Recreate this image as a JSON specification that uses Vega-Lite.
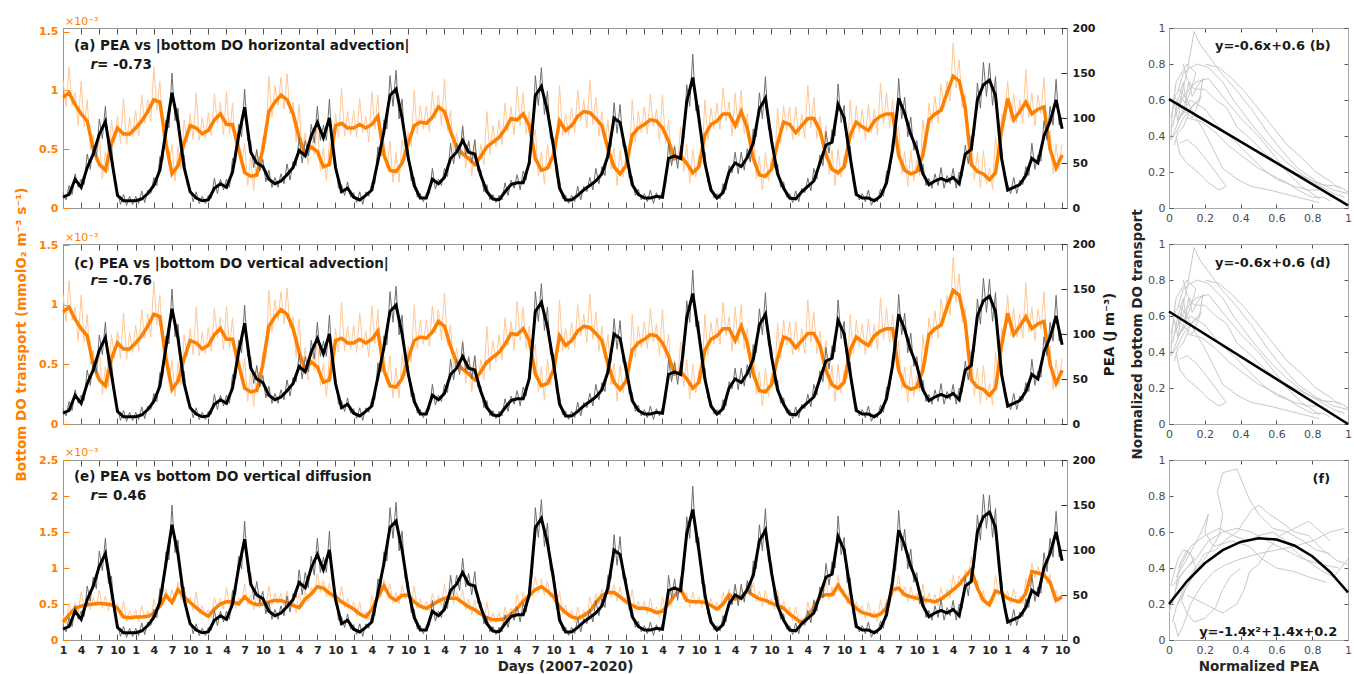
{
"$schema": "https://vega.github.io/schema/vega-lite/v6.json",
"background": "white",
"padding": {"left": 14, "top": 16, "right": 5, "bottom": 0},
"config": {"font": "DejaVu Sans", "view": {"stroke": null}, "axis": {"grid": false, "labelFlush": false, "labelOverlap": false, "domainWidth": 1, "tickWidth": 1, "labelFont": "DejaVu Sans", "titleFont": "DejaVu Sans"}, "text": {"font": "DejaVu Sans"}, "title": {"font": "DejaVu Sans"}},
"datasets": {
"sm": [
{"t":0,"p":12,"h":0.94,"v":0.25},{"t":1,"p":15,"h":0.98,"v":0.35},{"t":2,"p":32,"h":0.88,"v":0.44},{"t":3,"p":23,"h":0.8,"v":0.47},{"t":4,"p":45,"h":0.74,"v":0.49},{"t":5,"p":60,"h":0.5,"v":0.5},{"t":6,"p":82,"h":0.37,"v":0.51},{"t":7,"p":96,"h":0.32,"v":0.5},{"t":8,"p":55,"h":0.55,"v":0.49},{"t":9,"p":14,"h":0.68,"v":0.44},{"t":10,"p":8,"h":0.63,"v":0.32},{"t":11,"p":8,"h":0.63,"v":0.31},
{"t":12,"p":8,"h":0.68,"v":0.32},{"t":13,"p":10,"h":0.74,"v":0.32},{"t":14,"p":16,"h":0.82,"v":0.33},{"t":15,"p":25,"h":0.92,"v":0.37},{"t":16,"p":42,"h":0.9,"v":0.47},{"t":17,"p":85,"h":0.55,"v":0.62},{"t":18,"p":128,"h":0.29,"v":0.52},{"t":19,"p":95,"h":0.36,"v":0.7},{"t":20,"p":45,"h":0.55,"v":0.6},{"t":21,"p":18,"h":0.7,"v":0.52},{"t":22,"p":11,"h":0.68,"v":0.45},{"t":23,"p":8,"h":0.63,"v":0.38},
{"t":24,"p":9,"h":0.66,"v":0.33},{"t":25,"p":22,"h":0.75,"v":0.43},{"t":26,"p":27,"h":0.8,"v":0.5},{"t":27,"p":23,"h":0.71,"v":0.53},{"t":28,"p":40,"h":0.71,"v":0.53},{"t":29,"p":80,"h":0.5,"v":0.5},{"t":30,"p":112,"h":0.3,"v":0.6},{"t":31,"p":62,"h":0.27,"v":0.52},{"t":32,"p":50,"h":0.28,"v":0.49},{"t":33,"p":46,"h":0.5,"v":0.5},{"t":34,"p":32,"h":0.82,"v":0.53},{"t":35,"p":27,"h":0.9,"v":0.55},
{"t":36,"p":30,"h":0.96,"v":0.55},{"t":37,"p":37,"h":0.92,"v":0.52},{"t":38,"p":45,"h":0.8,"v":0.48},{"t":39,"p":64,"h":0.6,"v":0.45},{"t":40,"p":58,"h":0.46,"v":0.57},{"t":41,"p":80,"h":0.52,"v":0.64},{"t":42,"p":95,"h":0.48,"v":0.74},{"t":43,"p":78,"h":0.35,"v":0.72},{"t":44,"p":100,"h":0.37,"v":0.65},{"t":45,"p":45,"h":0.7,"v":0.6},{"t":46,"p":18,"h":0.72,"v":0.53},{"t":47,"p":22,"h":0.68,"v":0.48},
{"t":48,"p":12,"h":0.68,"v":0.43},{"t":49,"p":9,"h":0.71,"v":0.36},{"t":50,"p":14,"h":0.68,"v":0.32},{"t":51,"p":20,"h":0.71,"v":0.42},{"t":52,"p":52,"h":0.78,"v":0.6},{"t":53,"p":85,"h":0.45,"v":0.75},{"t":54,"p":125,"h":0.32,"v":0.6},{"t":55,"p":132,"h":0.31,"v":0.55},{"t":56,"p":100,"h":0.38,"v":0.62},{"t":57,"p":56,"h":0.55,"v":0.62},{"t":58,"p":25,"h":0.7,"v":0.53},{"t":59,"p":11,"h":0.73,"v":0.47},
{"t":60,"p":11,"h":0.72,"v":0.44},{"t":61,"p":32,"h":0.77,"v":0.49},{"t":62,"p":27,"h":0.86,"v":0.54},{"t":63,"p":34,"h":0.82,"v":0.58},{"t":64,"p":55,"h":0.65,"v":0.58},{"t":65,"p":62,"h":0.52,"v":0.58},{"t":66,"p":75,"h":0.46,"v":0.52},{"t":67,"p":62,"h":0.42,"v":0.46},{"t":68,"p":60,"h":0.37,"v":0.42},{"t":69,"p":36,"h":0.44,"v":0.36},{"t":70,"p":18,"h":0.52,"v":0.31},{"t":71,"p":10,"h":0.56,"v":0.28},
{"t":72,"p":9,"h":0.6,"v":0.28},{"t":73,"p":18,"h":0.67,"v":0.3},{"t":74,"p":26,"h":0.76,"v":0.36},{"t":75,"p":28,"h":0.75,"v":0.44},{"t":76,"p":28,"h":0.8,"v":0.54},{"t":77,"p":50,"h":0.7,"v":0.62},{"t":78,"p":125,"h":0.42,"v":0.7},{"t":79,"p":135,"h":0.32,"v":0.74},{"t":80,"p":108,"h":0.34,"v":0.68},{"t":81,"p":68,"h":0.45,"v":0.6},{"t":82,"p":22,"h":0.74,"v":0.46},{"t":83,"p":9,"h":0.66,"v":0.38},
{"t":84,"p":9,"h":0.7,"v":0.32},{"t":85,"p":14,"h":0.78,"v":0.3},{"t":86,"p":20,"h":0.82,"v":0.34},{"t":87,"p":25,"h":0.81,"v":0.4},{"t":88,"p":30,"h":0.76,"v":0.52},{"t":89,"p":38,"h":0.7,"v":0.62},{"t":90,"p":58,"h":0.5,"v":0.66},{"t":91,"p":100,"h":0.35,"v":0.66},{"t":92,"p":95,"h":0.29,"v":0.6},{"t":93,"p":60,"h":0.36,"v":0.53},{"t":94,"p":26,"h":0.62,"v":0.48},{"t":95,"p":15,"h":0.68,"v":0.44},
{"t":96,"p":11,"h":0.71,"v":0.44},{"t":97,"p":11,"h":0.75,"v":0.42},{"t":98,"p":13,"h":0.74,"v":0.38},{"t":99,"p":12,"h":0.68,"v":0.4},{"t":100,"p":55,"h":0.57,"v":0.5},{"t":101,"p":58,"h":0.42,"v":0.62},{"t":102,"p":55,"h":0.44,"v":0.7},{"t":103,"p":118,"h":0.38,"v":0.55},{"t":104,"p":145,"h":0.3,"v":0.53},{"t":105,"p":100,"h":0.35,"v":0.53},{"t":106,"p":50,"h":0.62,"v":0.52},{"t":107,"p":20,"h":0.71,"v":0.48},
{"t":108,"p":11,"h":0.74,"v":0.43},{"t":109,"p":17,"h":0.8,"v":0.5},{"t":110,"p":40,"h":0.8,"v":0.63},{"t":111,"p":50,"h":0.7,"v":0.57},{"t":112,"p":46,"h":0.82,"v":0.6},{"t":113,"p":56,"h":0.68,"v":0.68},{"t":114,"p":72,"h":0.42,"v":0.62},{"t":115,"p":110,"h":0.28,"v":0.57},{"t":116,"p":122,"h":0.27,"v":0.55},{"t":117,"p":75,"h":0.33,"v":0.51},{"t":118,"p":38,"h":0.55,"v":0.48},{"t":119,"p":22,"h":0.73,"v":0.44},
{"t":120,"p":11,"h":0.71,"v":0.36},{"t":121,"p":10,"h":0.64,"v":0.3},{"t":122,"p":18,"h":0.7,"v":0.23},{"t":123,"p":24,"h":0.76,"v":0.33},{"t":124,"p":30,"h":0.76,"v":0.45},{"t":125,"p":50,"h":0.66,"v":0.6},{"t":126,"p":70,"h":0.45,"v":0.63},{"t":127,"p":73,"h":0.33,"v":0.63},{"t":128,"p":115,"h":0.3,"v":0.76},{"t":129,"p":100,"h":0.35,"v":0.63},{"t":130,"p":56,"h":0.62,"v":0.52},{"t":131,"p":15,"h":0.73,"v":0.44},
{"t":132,"p":11,"h":0.69,"v":0.38},{"t":133,"p":11,"h":0.66,"v":0.36},{"t":134,"p":8,"h":0.74,"v":0.33},{"t":135,"p":13,"h":0.78,"v":0.36},{"t":136,"p":28,"h":0.8,"v":0.45},{"t":137,"p":65,"h":0.8,"v":0.7},{"t":138,"p":122,"h":0.45,"v":0.72},{"t":139,"p":105,"h":0.32,"v":0.63},{"t":140,"p":82,"h":0.29,"v":0.6},{"t":141,"p":65,"h":0.31,"v":0.58},{"t":142,"p":38,"h":0.45,"v":0.56},{"t":143,"p":26,"h":0.75,"v":0.55},
{"t":144,"p":30,"h":0.8,"v":0.53},{"t":145,"p":33,"h":0.83,"v":0.57},{"t":146,"p":30,"h":0.98,"v":0.63},{"t":147,"p":34,"h":1.12,"v":0.7},{"t":148,"p":27,"h":1.08,"v":0.77},{"t":149,"p":60,"h":0.85,"v":0.88},{"t":150,"p":65,"h":0.37,"v":0.98},{"t":151,"p":120,"h":0.31,"v":0.72},{"t":152,"p":137,"h":0.29,"v":0.55},{"t":153,"p":142,"h":0.24,"v":0.49},{"t":154,"p":125,"h":0.3,"v":0.68},{"t":155,"p":55,"h":0.66,"v":0.65},
{"t":156,"p":20,"h":0.93,"v":0.58},{"t":157,"p":23,"h":0.75,"v":0.55},{"t":158,"p":26,"h":0.82,"v":0.53},{"t":159,"p":36,"h":0.9,"v":0.65},{"t":160,"p":55,"h":0.8,"v":0.95},{"t":161,"p":50,"h":0.84,"v":0.93},{"t":162,"p":80,"h":0.86,"v":0.9},{"t":163,"p":96,"h":0.5,"v":0.8},{"t":164,"p":120,"h":0.34,"v":0.55},{"t":165,"p":88,"h":0.45,"v":0.6}
],
"raw": [
{"t":0,"P":17,"H":1.09,"V":0.35},{"t":0.5,"P":9,"H":0.86,"V":0.23},{"t":1,"P":25,"H":1.2,"V":0.51},{"t":1.5,"P":15,"H":0.87,"V":0.36},{"t":2,"P":38,"H":0.98,"V":0.52},{"t":2.5,"P":23,"H":0.7,"V":0.37},{"t":3,"P":32,"H":1.08,"V":0.67},{"t":3.5,"P":26,"H":0.69,"V":0.43},{"t":4,"P":60,"H":0.92,"V":0.61},{"t":4.5,"P":43,"H":0.5,"V":0.42},{"t":5,"P":70,"H":0.62,"V":0.59},{"t":5.5,"P":57,"H":0.39,"V":0.47},
{"t":6,"P":99,"H":0.62,"V":0.69},{"t":6.5,"P":77,"H":0.25,"V":0.44},{"t":7,"P":113,"H":0.48,"V":0.61},{"t":7.5,"P":63,"H":0.31,"V":0.41},{"t":8,"P":71,"H":0.75,"V":0.63},{"t":8.5,"P":29,"H":0.55,"V":0.42},{"t":9,"P":18,"H":0.78,"V":0.51},{"t":9.5,"P":4,"H":0.55,"V":0.3},{"t":10,"P":15,"H":0.93,"V":0.54},{"t":10.5,"P":3,"H":0.54,"V":0.26},{"t":11,"P":13,"H":0.77,"V":0.41},{"t":11.5,"P":4,"H":0.6,"V":0.28},
{"t":12,"P":13,"H":0.83,"V":0.42},{"t":12.5,"P":5,"H":0.61,"V":0.25},{"t":13,"P":19,"H":0.96,"V":0.48},{"t":13.5,"P":6,"H":0.72,"V":0.29},{"t":14,"P":20,"H":0.92,"V":0.41},{"t":14.5,"P":16,"H":0.73,"V":0.26},{"t":15,"P":34,"H":1.2,"V":0.57},{"t":15.5,"P":25,"H":0.83,"V":0.37},{"t":16,"P":57,"H":1.08,"V":0.59},{"t":16.5,"P":53,"H":0.61,"V":0.47},{"t":17,"P":98,"H":0.67,"V":0.71},{"t":17.5,"P":89,"H":0.37,"V":0.53},
{"t":18,"P":150,"H":0.54,"V":0.7},{"t":18.5,"P":97,"H":0.23,"V":0.54},{"t":19,"P":111,"H":0.52,"V":0.81},{"t":19.5,"P":58,"H":0.33,"V":0.56},{"t":20,"P":59,"H":0.75,"V":0.74},{"t":20.5,"P":26,"H":0.56,"V":0.51},{"t":21,"P":22,"H":0.8,"V":0.59},{"t":21.5,"P":7,"H":0.58,"V":0.41},{"t":22,"P":18,"H":0.98,"V":0.67},{"t":22.5,"P":5,"H":0.57,"V":0.36},{"t":23,"P":13,"H":0.77,"V":0.48},{"t":23.5,"P":5,"H":0.59,"V":0.32},
{"t":24,"P":14,"H":0.81,"V":0.43},{"t":24.5,"P":11,"H":0.61,"V":0.31},{"t":25,"P":33,"H":0.97,"V":0.59},{"t":25.5,"P":16,"H":0.72,"V":0.43},{"t":26,"P":32,"H":0.9,"V":0.58},{"t":26.5,"P":20,"H":0.62,"V":0.43},{"t":27,"P":32,"H":0.99,"V":0.73},{"t":27.5,"P":23,"H":0.63,"V":0.48},{"t":28,"P":55,"H":0.89,"V":0.65},{"t":28.5,"P":50,"H":0.49,"V":0.44},{"t":29,"P":93,"H":0.62,"V":0.59},{"t":29.5,"P":79,"H":0.35,"V":0.51},
{"t":30,"P":132,"H":0.55,"V":0.78},{"t":30.5,"P":75,"H":0.19,"V":0.49},{"t":31,"P":74,"H":0.43,"V":0.63},{"t":31.5,"P":45,"H":0.15,"V":0.42},{"t":32,"P":65,"H":0.48,"V":0.63},{"t":32.5,"P":41,"H":0.32,"V":0.45},{"t":33,"P":54,"H":0.6,"V":0.57},{"t":33.5,"P":29,"H":0.55,"V":0.44},{"t":34,"P":42,"H":1.12,"V":0.75},{"t":34.5,"P":23,"H":0.77,"V":0.48},{"t":35,"P":34,"H":1.04,"V":0.65},{"t":35.5,"P":23,"H":0.87,"V":0.51},
{"t":36,"P":38,"H":1.11,"V":0.65},{"t":36.5,"P":27,"H":0.84,"V":0.47},{"t":37,"P":49,"H":1.14,"V":0.68},{"t":37.5,"P":31,"H":0.8,"V":0.46},{"t":38,"P":52,"H":0.9,"V":0.56},{"t":38.5,"P":47,"H":0.56,"V":0.38},{"t":39,"P":78,"H":0.88,"V":0.65},{"t":39.5,"P":50,"H":0.45,"V":0.46},{"t":40,"P":75,"H":0.64,"V":0.69},{"t":40.5,"P":58,"H":0.37,"V":0.53},{"t":41,"P":93,"H":0.64,"V":0.73},{"t":41.5,"P":72,"H":0.45,"V":0.65},
{"t":42,"P":113,"H":0.73,"V":0.92},{"t":42.5,"P":75,"H":0.32,"V":0.66},{"t":43,"P":92,"H":0.51,"V":0.83},{"t":43.5,"P":75,"H":0.23,"V":0.6},{"t":44,"P":121,"H":0.57,"V":0.79},{"t":44.5,"P":63,"H":0.47,"V":0.58},{"t":45,"P":52,"H":0.8,"V":0.67},{"t":45.5,"P":22,"H":0.6,"V":0.49},{"t":46,"P":26,"H":1.02,"V":0.75},{"t":46.5,"P":14,"H":0.61,"V":0.45},{"t":47,"P":29,"H":0.82,"V":0.58},{"t":47.5,"P":12,"H":0.62,"V":0.42},
{"t":48,"P":17,"H":0.83,"V":0.53},{"t":48.5,"P":6,"H":0.6,"V":0.33},{"t":49,"P":18,"H":0.93,"V":0.52},{"t":49.5,"P":4,"H":0.64,"V":0.3},{"t":50,"P":18,"H":0.78,"V":0.4},{"t":50.5,"P":13,"H":0.56,"V":0.28},{"t":51,"P":28,"H":0.99,"V":0.62},{"t":51.5,"P":27,"H":0.67,"V":0.46},{"t":52,"P":68,"H":0.96,"V":0.72},{"t":52.5,"P":58,"H":0.5,"V":0.6},{"t":53,"P":98,"H":0.57,"V":0.84},{"t":53.5,"P":88,"H":0.34,"V":0.64},
{"t":54,"P":147,"H":0.57,"V":0.78},{"t":54.5,"P":113,"H":0.22,"V":0.51},{"t":55,"P":153,"H":0.47,"V":0.66},{"t":55.5,"P":99,"H":0.22,"V":0.5},{"t":56,"P":121,"H":0.58,"V":0.76},{"t":56.5,"P":68,"H":0.4,"V":0.57},{"t":57,"P":65,"H":0.65,"V":0.69},{"t":57.5,"P":30,"H":0.52,"V":0.5},{"t":58,"P":34,"H":1.0,"V":0.75},{"t":58.5,"P":12,"H":0.63,"V":0.44},{"t":59,"P":16,"H":0.87,"V":0.57},{"t":59.5,"P":7,"H":0.67,"V":0.42},
{"t":60,"P":16,"H":0.87,"V":0.54},{"t":60.5,"P":16,"H":0.65,"V":0.4},{"t":61,"P":44,"H":0.99,"V":0.65},{"t":61.5,"P":21,"H":0.76,"V":0.48},{"t":62,"P":32,"H":0.96,"V":0.62},{"t":62.5,"P":25,"H":0.7,"V":0.47},{"t":63,"P":44,"H":1.1,"V":0.78},{"t":63.5,"P":35,"H":0.66,"V":0.53},{"t":64,"P":72,"H":0.83,"V":0.7},{"t":64.5,"P":49,"H":0.47,"V":0.5},{"t":65,"P":72,"H":0.64,"V":0.67},{"t":65.5,"P":55,"H":0.44,"V":0.51},
{"t":66,"P":91,"H":0.71,"V":0.7},{"t":66.5,"P":59,"H":0.34,"V":0.42},{"t":67,"P":74,"H":0.58,"V":0.57},{"t":67.5,"P":50,"H":0.27,"V":0.35},{"t":68,"P":76,"H":0.57,"V":0.56},{"t":68.5,"P":41,"H":0.34,"V":0.34},{"t":69,"P":42,"H":0.54,"V":0.43},{"t":69.5,"P":18,"H":0.37,"V":0.26},{"t":70,"P":26,"H":0.82,"V":0.53},{"t":70.5,"P":9,"H":0.45,"V":0.24},{"t":71,"P":15,"H":0.7,"V":0.38},{"t":71.5,"P":6,"H":0.52,"V":0.24},
{"t":72,"P":14,"H":0.75,"V":0.38},{"t":72.5,"P":9,"H":0.54,"V":0.22},{"t":73,"P":28,"H":0.89,"V":0.46},{"t":73.5,"P":14,"H":0.66,"V":0.29},{"t":74,"P":31,"H":0.86,"V":0.44},{"t":74.5,"P":22,"H":0.62,"V":0.31},{"t":75,"P":37,"H":1.03,"V":0.64},{"t":75.5,"P":20,"H":0.7,"V":0.44},{"t":76,"P":41,"H":0.98,"V":0.66},{"t":76.5,"P":31,"H":0.63,"V":0.5},{"t":77,"P":59,"H":0.82,"V":0.71},{"t":77.5,"P":72,"H":0.51,"V":0.62},
{"t":78,"P":147,"H":0.67,"V":0.88},{"t":78.5,"P":114,"H":0.27,"V":0.65},{"t":79,"P":156,"H":0.48,"V":0.85},{"t":79.5,"P":104,"H":0.2,"V":0.62},{"t":80,"P":130,"H":0.54,"V":0.82},{"t":80.5,"P":77,"H":0.33,"V":0.59},{"t":81,"P":78,"H":0.55,"V":0.67},{"t":81.5,"P":35,"H":0.49,"V":0.45},{"t":82,"P":31,"H":1.04,"V":0.68},{"t":82.5,"P":10,"H":0.61,"V":0.36},{"t":83,"P":14,"H":0.8,"V":0.48},{"t":83.5,"P":5,"H":0.62,"V":0.31},
{"t":84,"P":14,"H":0.85,"V":0.42},{"t":84.5,"P":7,"H":0.64,"V":0.24},{"t":85,"P":24,"H":1.0,"V":0.46},{"t":85.5,"P":9,"H":0.74,"V":0.28},{"t":86,"P":24,"H":0.92,"V":0.42},{"t":86.5,"P":18,"H":0.68,"V":0.28},{"t":87,"P":34,"H":1.09,"V":0.6},{"t":87.5,"P":20,"H":0.71,"V":0.41},{"t":88,"P":44,"H":0.94,"V":0.64},{"t":88.5,"P":27,"H":0.61,"V":0.49},{"t":89,"P":46,"H":0.82,"V":0.71},{"t":89.5,"P":36,"H":0.55,"V":0.6},
{"t":90,"P":72,"H":0.75,"V":0.84},{"t":90.5,"P":68,"H":0.33,"V":0.59},{"t":91,"P":117,"H":0.51,"V":0.77},{"t":91.5,"P":83,"H":0.19,"V":0.54},{"t":92,"P":115,"H":0.49,"V":0.74},{"t":92.5,"P":68,"H":0.26,"V":0.52},{"t":93,"P":69,"H":0.46,"V":0.6},{"t":93.5,"P":33,"H":0.38,"V":0.43},{"t":94,"P":35,"H":0.92,"V":0.7},{"t":94.5,"P":14,"H":0.56,"V":0.4},{"t":95,"P":21,"H":0.82,"V":0.54},{"t":95.5,"P":9,"H":0.64,"V":0.4},
{"t":96,"P":16,"H":0.86,"V":0.54},{"t":96.5,"P":7,"H":0.63,"V":0.36},{"t":97,"P":20,"H":0.97,"V":0.58},{"t":97.5,"P":5,"H":0.69,"V":0.36},{"t":98,"P":17,"H":0.84,"V":0.46},{"t":98.5,"P":9,"H":0.57,"V":0.3},{"t":99,"P":19,"H":0.96,"V":0.6},{"t":99.5,"P":25,"H":0.55,"V":0.4},{"t":100,"P":72,"H":0.75,"V":0.62},{"t":100.5,"P":47,"H":0.38,"V":0.48},{"t":101,"P":68,"H":0.54,"V":0.71},{"t":101.5,"P":44,"H":0.38,"V":0.62},
{"t":102,"P":69,"H":0.69,"V":0.88},{"t":102.5,"P":75,"H":0.31,"V":0.56},{"t":103,"P":137,"H":0.54,"V":0.66},{"t":103.5,"P":113,"H":0.21,"V":0.45},{"t":104,"P":171,"H":0.5,"V":0.67},{"t":104.5,"P":108,"H":0.26,"V":0.48},{"t":105,"P":114,"H":0.45,"V":0.6},{"t":105.5,"P":62,"H":0.38,"V":0.45},{"t":106,"P":62,"H":0.92,"V":0.74},{"t":106.5,"P":28,"H":0.58,"V":0.44},{"t":107,"P":26,"H":0.85,"V":0.58},{"t":107.5,"P":11,"H":0.67,"V":0.42},
{"t":108,"P":16,"H":0.89,"V":0.53},{"t":108.5,"P":10,"H":0.67,"V":0.4},{"t":109,"P":27,"H":1.02,"V":0.66},{"t":109.5,"P":20,"H":0.74,"V":0.53},{"t":110,"P":47,"H":0.9,"V":0.71},{"t":110.5,"P":39,"H":0.61,"V":0.51},{"t":111,"P":62,"H":0.98,"V":0.77},{"t":111.5,"P":38,"H":0.68,"V":0.54},{"t":112,"P":62,"H":1.0,"V":0.72},{"t":112.5,"P":42,"H":0.63,"V":0.56},{"t":113,"P":66,"H":0.8,"V":0.77},{"t":113.5,"P":51,"H":0.5,"V":0.61},
{"t":114,"P":88,"H":0.67,"V":0.8},{"t":114.5,"P":79,"H":0.25,"V":0.53},{"t":115,"P":128,"H":0.44,"V":0.68},{"t":115.5,"P":99,"H":0.15,"V":0.47},{"t":116,"P":146,"H":0.47,"V":0.69},{"t":116.5,"P":87,"H":0.23,"V":0.48},{"t":117,"P":86,"H":0.43,"V":0.58},{"t":117.5,"P":45,"H":0.33,"V":0.42},{"t":118,"P":49,"H":0.85,"V":0.7},{"t":118.5,"P":23,"H":0.55,"V":0.4},{"t":119,"P":29,"H":0.87,"V":0.54},{"t":119.5,"P":12,"H":0.66,"V":0.36},
{"t":120,"P":16,"H":0.86,"V":0.46},{"t":120.5,"P":6,"H":0.58,"V":0.26},{"t":121,"P":19,"H":0.86,"V":0.46},{"t":121.5,"P":7,"H":0.61,"V":0.23},{"t":122,"P":22,"H":0.8,"V":0.31},{"t":122.5,"P":17,"H":0.59,"V":0.19},{"t":123,"P":33,"H":1.04,"V":0.53},{"t":123.5,"P":19,"H":0.68,"V":0.34},{"t":124,"P":44,"H":0.94,"V":0.57},{"t":124.5,"P":32,"H":0.59,"V":0.45},{"t":125,"P":59,"H":0.78,"V":0.69},{"t":125.5,"P":47,"H":0.51,"V":0.58},
{"t":126,"P":85,"H":0.7,"V":0.81},{"t":126.5,"P":61,"H":0.29,"V":0.56},{"t":127,"P":87,"H":0.49,"V":0.74},{"t":127.5,"P":80,"H":0.19,"V":0.61},{"t":128,"P":138,"H":0.5,"V":0.9},{"t":128.5,"P":95,"H":0.26,"V":0.65},{"t":129,"P":114,"H":0.45,"V":0.7},{"t":129.5,"P":64,"H":0.38,"V":0.5},{"t":130,"P":69,"H":0.92,"V":0.74},{"t":130.5,"P":28,"H":0.59,"V":0.42},{"t":131,"P":21,"H":0.87,"V":0.54},{"t":131.5,"P":9,"H":0.65,"V":0.37},
{"t":132,"P":16,"H":0.84,"V":0.48},{"t":132.5,"P":7,"H":0.58,"V":0.3},{"t":133,"P":20,"H":0.88,"V":0.52},{"t":133.5,"P":3,"H":0.64,"V":0.31},{"t":134,"P":11,"H":0.84,"V":0.41},{"t":134.5,"P":7,"H":0.62,"V":0.26},{"t":135,"P":21,"H":1.06,"V":0.56},{"t":135.5,"P":13,"H":0.71,"V":0.36},{"t":136,"P":41,"H":0.98,"V":0.57},{"t":136.5,"P":38,"H":0.68,"V":0.5},{"t":137,"P":76,"H":0.92,"V":0.79},{"t":137.5,"P":77,"H":0.58,"V":0.67},
{"t":138,"P":144,"H":0.7,"V":0.9},{"t":138.5,"P":99,"H":0.29,"V":0.61},{"t":139,"P":123,"H":0.48,"V":0.74},{"t":139.5,"P":79,"H":0.18,"V":0.53},{"t":140,"P":101,"H":0.49,"V":0.74},{"t":140.5,"P":64,"H":0.23,"V":0.54},{"t":141,"P":75,"H":0.41,"V":0.65},{"t":141.5,"P":40,"H":0.27,"V":0.49},{"t":142,"P":49,"H":0.75,"V":0.78},{"t":142.5,"P":25,"H":0.51,"V":0.5},{"t":143,"P":33,"H":0.89,"V":0.65},{"t":143.5,"P":22,"H":0.72,"V":0.5},
{"t":144,"P":38,"H":0.95,"V":0.63},{"t":144.5,"P":25,"H":0.72,"V":0.48},{"t":145,"P":45,"H":1.05,"V":0.73},{"t":145.5,"P":22,"H":0.85,"V":0.56},{"t":146,"P":36,"H":1.08,"V":0.71},{"t":146.5,"P":27,"H":0.91,"V":0.58},{"t":147,"P":44,"H":1.4,"V":0.9},{"t":147.5,"P":22,"H":1.02,"V":0.69},{"t":148,"P":40,"H":1.26,"V":0.89},{"t":148.5,"P":35,"H":0.85,"V":0.75},{"t":149,"P":70,"H":0.97,"V":0.97},{"t":149.5,"P":49,"H":0.56,"V":0.89},
{"t":150,"P":80,"H":0.62,"V":1.16},{"t":150.5,"P":80,"H":0.24,"V":0.78},{"t":151,"P":139,"H":0.47,"V":0.83},{"t":151.5,"P":111,"H":0.17,"V":0.55},{"t":152,"P":162,"H":0.49,"V":0.69},{"t":152.5,"P":124,"H":0.2,"V":0.47},{"t":153,"P":161,"H":0.34,"V":0.56},{"t":153.5,"P":114,"H":0.16,"V":0.51},{"t":154,"P":146,"H":0.6,"V":0.9},{"t":154.5,"P":77,"H":0.39,"V":0.61},{"t":155,"P":66,"H":0.8,"V":0.75},{"t":155.5,"P":31,"H":0.74,"V":0.58},
{"t":156,"P":26,"H":1.08,"V":0.68},{"t":156.5,"P":16,"H":0.74,"V":0.5},{"t":157,"P":34,"H":0.97,"V":0.71},{"t":157.5,"P":16,"H":0.73,"V":0.5},{"t":158,"P":31,"H":0.92,"V":0.61},{"t":158.5,"P":26,"H":0.72,"V":0.5},{"t":159,"P":46,"H":1.18,"V":0.85},{"t":159.5,"P":36,"H":0.77,"V":0.75},{"t":160,"P":72,"H":0.98,"V":1.07},{"t":160.5,"P":43,"H":0.7,"V":0.86},{"t":161,"P":59,"H":0.96,"V":1.02},{"t":161.5,"P":52,"H":0.8,"V":0.88},
{"t":162,"P":97,"H":1.11,"V":1.08},{"t":162.5,"P":76,"H":0.58,"V":0.78},{"t":163,"P":113,"H":0.66,"V":0.91},{"t":163.5,"P":92,"H":0.29,"V":0.59},{"t":164,"P":143,"H":0.54,"V":0.69},{"t":164.5,"P":92,"H":0.33,"V":0.53},{"t":165,"P":101,"H":0.55,"V":0.67}
],
"sb": [
{"g":1,"x":0.02,"y":0.45},{"g":1,"x":0.05,"y":0.6},{"g":1,"x":0.08,"y":0.7},{"g":1,"x":0.1,"y":0.55},{"g":1,"x":0.06,"y":0.5},{"g":1,"x":0.12,"y":0.65},{"g":1,"x":0.15,"y":0.75},{"g":1,"x":0.1,"y":0.8},{"g":1,"x":0.04,"y":0.7},{"g":1,"x":0.02,"y":0.55},{"g":1,"x":0.01,"y":0.38},{"g":1,"x":0.04,"y":0.42},{"g":1,"x":0.08,"y":0.5},{"g":1,"x":0.14,"y":0.58},{"g":1,"x":0.18,"y":0.62},{"g":1,"x":0.13,"y":0.5},{"g":1,"x":0.07,"y":0.55},{"g":1,"x":0.03,"y":0.62},
{"g":2,"x":0.05,"y":0.55},{"g":2,"x":0.1,"y":0.75},{"g":2,"x":0.14,"y":0.98},{"g":2,"x":0.18,"y":0.9},{"g":2,"x":0.24,"y":0.82},{"g":2,"x":0.3,"y":0.74},{"g":2,"x":0.38,"y":0.65},{"g":2,"x":0.46,"y":0.55},{"g":2,"x":0.55,"y":0.42},{"g":2,"x":0.63,"y":0.32},{"g":2,"x":0.72,"y":0.22},{"g":2,"x":0.82,"y":0.15},{"g":2,"x":0.92,"y":0.1},{"g":2,"x":1,"y":0.08},
{"g":3,"x":0.03,"y":0.5},{"g":3,"x":0.08,"y":0.62},{"g":3,"x":0.15,"y":0.7},{"g":3,"x":0.22,"y":0.72},{"g":3,"x":0.3,"y":0.62},{"g":3,"x":0.4,"y":0.5},{"g":3,"x":0.5,"y":0.4},{"g":3,"x":0.58,"y":0.3},{"g":3,"x":0.66,"y":0.2},{"g":3,"x":0.74,"y":0.12},{"g":3,"x":0.8,"y":0.08},{"g":3,"x":0.84,"y":0.05},
{"g":4,"x":0.02,"y":0.4},{"g":4,"x":0.06,"y":0.5},{"g":4,"x":0.12,"y":0.6},{"g":4,"x":0.2,"y":0.55},{"g":4,"x":0.28,"y":0.45},{"g":4,"x":0.36,"y":0.38},{"g":4,"x":0.44,"y":0.3},{"g":4,"x":0.52,"y":0.22},{"g":4,"x":0.6,"y":0.16},{"g":4,"x":0.7,"y":0.12},{"g":4,"x":0.78,"y":0.1},{"g":4,"x":0.84,"y":0.1},
{"g":5,"x":0.04,"y":0.4},{"g":5,"x":0.06,"y":0.3},{"g":5,"x":0.1,"y":0.25},{"g":5,"x":0.16,"y":0.2},{"g":5,"x":0.22,"y":0.14},{"g":5,"x":0.28,"y":0.1},{"g":5,"x":0.32,"y":0.12},{"g":5,"x":0.26,"y":0.2},{"g":5,"x":0.2,"y":0.28},{"g":5,"x":0.15,"y":0.34},{"g":5,"x":0.1,"y":0.38},{"g":5,"x":0.06,"y":0.36},
{"g":6,"x":0.1,"y":0.5},{"g":6,"x":0.18,"y":0.48},{"g":6,"x":0.26,"y":0.42},{"g":6,"x":0.34,"y":0.34},{"g":6,"x":0.42,"y":0.28},{"g":6,"x":0.5,"y":0.22},{"g":6,"x":0.58,"y":0.18},{"g":6,"x":0.66,"y":0.14},{"g":6,"x":0.72,"y":0.1},{"g":6,"x":0.8,"y":0.06},{"g":6,"x":0.86,"y":0.06},{"g":6,"x":0.9,"y":0.04},
{"g":7,"x":0.2,"y":0.8},{"g":7,"x":0.28,"y":0.78},{"g":7,"x":0.35,"y":0.72},{"g":7,"x":0.42,"y":0.65},{"g":7,"x":0.5,"y":0.55},{"g":7,"x":0.58,"y":0.45},{"g":7,"x":0.66,"y":0.35},{"g":7,"x":0.74,"y":0.28},{"g":7,"x":0.82,"y":0.2},{"g":7,"x":0.9,"y":0.15},{"g":7,"x":0.96,"y":0.1},
{"g":8,"x":0.08,"y":0.8},{"g":8,"x":0.1,"y":0.72},{"g":8,"x":0.14,"y":0.66},{"g":8,"x":0.2,"y":0.66},{"g":8,"x":0.26,"y":0.6},{"g":8,"x":0.32,"y":0.56},{"g":8,"x":0.38,"y":0.45},{"g":8,"x":0.46,"y":0.38},{"g":8,"x":0.54,"y":0.3},{"g":8,"x":0.62,"y":0.24},{"g":8,"x":0.7,"y":0.2},{"g":8,"x":0.78,"y":0.16},{"g":8,"x":0.85,"y":0.13},{"g":8,"x":0.95,"y":0.12},{"g":8,"x":1,"y":0.09},
{"g":9,"x":0.01,"y":0.5},{"g":9,"x":0.03,"y":0.58},{"g":9,"x":0.05,"y":0.48},{"g":9,"x":0.07,"y":0.62},{"g":9,"x":0.09,"y":0.58},{"g":9,"x":0.11,"y":0.7},{"g":9,"x":0.13,"y":0.62},{"g":9,"x":0.16,"y":0.68},{"g":9,"x":0.19,"y":0.72},{"g":9,"x":0.17,"y":0.6},{"g":9,"x":0.12,"y":0.55},{"g":9,"x":0.08,"y":0.45},{"g":9,"x":0.05,"y":0.42},{"g":9,"x":0.03,"y":0.35},
{"g":10,"x":0.05,"y":0.65},{"g":10,"x":0.08,"y":0.75},{"g":10,"x":0.12,"y":0.78},{"g":10,"x":0.16,"y":0.8},{"g":10,"x":0.22,"y":0.78},{"g":10,"x":0.3,"y":0.7},{"g":10,"x":0.36,"y":0.6},{"g":10,"x":0.45,"y":0.48},{"g":10,"x":0.55,"y":0.36},{"g":10,"x":0.65,"y":0.26},{"g":10,"x":0.75,"y":0.18},{"g":10,"x":0.85,"y":0.12},{"g":10,"x":0.92,"y":0.08},{"g":10,"x":0.98,"y":0.06},
{"g":11,"x":0.02,"y":0.6},{"g":11,"x":0.06,"y":0.66},{"g":11,"x":0.1,"y":0.6},{"g":11,"x":0.14,"y":0.52},{"g":11,"x":0.2,"y":0.42},{"g":11,"x":0.26,"y":0.3},{"g":11,"x":0.3,"y":0.22},{"g":11,"x":0.38,"y":0.16},{"g":11,"x":0.46,"y":0.12},{"g":11,"x":0.56,"y":0.1},{"g":11,"x":0.64,"y":0.08},{"g":11,"x":0.72,"y":0.06},{"g":11,"x":0.8,"y":0.04},{"g":11,"x":0.84,"y":0.03}
],
"sf": [
{"g":1,"x":0,"y":0.15},{"g":1,"x":0.03,"y":0.25},{"g":1,"x":0.06,"y":0.35},{"g":1,"x":0.1,"y":0.4},{"g":1,"x":0.14,"y":0.45},{"g":1,"x":0.1,"y":0.5},{"g":1,"x":0.06,"y":0.42},{"g":1,"x":0.04,"y":0.3},{"g":1,"x":0.02,"y":0.2},
{"g":2,"x":0.02,"y":0.3},{"g":2,"x":0.08,"y":0.38},{"g":2,"x":0.15,"y":0.45},{"g":2,"x":0.22,"y":0.55},{"g":2,"x":0.3,"y":0.6},{"g":2,"x":0.38,"y":0.62},{"g":2,"x":0.46,"y":0.6},{"g":2,"x":0.55,"y":0.55},{"g":2,"x":0.65,"y":0.5},{"g":2,"x":0.75,"y":0.45},{"g":2,"x":0.85,"y":0.42},{"g":2,"x":0.95,"y":0.4},
{"g":3,"x":0.05,"y":0.2},{"g":3,"x":0.1,"y":0.3},{"g":3,"x":0.16,"y":0.4},{"g":3,"x":0.22,"y":0.48},{"g":3,"x":0.28,"y":0.58},{"g":3,"x":0.3,"y":0.7},{"g":3,"x":0.27,"y":0.82},{"g":3,"x":0.3,"y":0.93},{"g":3,"x":0.38,"y":0.95},{"g":3,"x":0.42,"y":0.85},{"g":3,"x":0.45,"y":0.78},{"g":3,"x":0.5,"y":0.7},{"g":3,"x":0.58,"y":0.62},{"g":3,"x":0.66,"y":0.6},{"g":3,"x":0.75,"y":0.55},{"g":3,"x":0.82,"y":0.5},{"g":3,"x":0.9,"y":0.48},
{"g":4,"x":0.03,"y":0.1},{"g":4,"x":0.05,"y":0.02},{"g":4,"x":0.08,"y":0.08},{"g":4,"x":0.12,"y":0.2},{"g":4,"x":0.18,"y":0.3},{"g":4,"x":0.25,"y":0.38},{"g":4,"x":0.32,"y":0.42},{"g":4,"x":0.4,"y":0.45},{"g":4,"x":0.5,"y":0.48},{"g":4,"x":0.6,"y":0.5},{"g":4,"x":0.7,"y":0.52},{"g":4,"x":0.8,"y":0.55},{"g":4,"x":0.9,"y":0.6},{"g":4,"x":0.98,"y":0.62},
{"g":5,"x":0.04,"y":0.35},{"g":5,"x":0.1,"y":0.45},{"g":5,"x":0.18,"y":0.6},{"g":5,"x":0.22,"y":0.7},{"g":5,"x":0.2,"y":0.6},{"g":5,"x":0.25,"y":0.52},{"g":5,"x":0.35,"y":0.55},{"g":5,"x":0.45,"y":0.52},{"g":5,"x":0.52,"y":0.45},{"g":5,"x":0.6,"y":0.4},{"g":5,"x":0.7,"y":0.38},{"g":5,"x":0.78,"y":0.35},{"g":5,"x":0.88,"y":0.32},
{"g":6,"x":0.1,"y":0.25},{"g":6,"x":0.2,"y":0.2},{"g":6,"x":0.3,"y":0.15},{"g":6,"x":0.38,"y":0.2},{"g":6,"x":0.42,"y":0.28},{"g":6,"x":0.45,"y":0.38},{"g":6,"x":0.5,"y":0.42},{"g":6,"x":0.55,"y":0.5},{"g":6,"x":0.62,"y":0.58},{"g":6,"x":0.7,"y":0.62},{"g":6,"x":0.78,"y":0.66},{"g":6,"x":0.85,"y":0.6},{"g":6,"x":0.9,"y":0.55},
{"g":7,"x":0.06,"y":0.4},{"g":7,"x":0.12,"y":0.52},{"g":7,"x":0.2,"y":0.58},{"g":7,"x":0.28,"y":0.62},{"g":7,"x":0.36,"y":0.58},{"g":7,"x":0.44,"y":0.55},{"g":7,"x":0.5,"y":0.58},{"g":7,"x":0.58,"y":0.6},{"g":7,"x":0.64,"y":0.56},{"g":7,"x":0.72,"y":0.48},{"g":7,"x":0.8,"y":0.42},{"g":7,"x":0.86,"y":0.38},{"g":7,"x":0.92,"y":0.35},{"g":7,"x":1,"y":0.45},
{"g":8,"x":0.02,"y":0.1},{"g":8,"x":0.04,"y":0.18},{"g":8,"x":0.08,"y":0.28},{"g":8,"x":0.12,"y":0.36},{"g":8,"x":0.16,"y":0.42},{"g":8,"x":0.2,"y":0.48},{"g":8,"x":0.26,"y":0.5},{"g":8,"x":0.32,"y":0.56},{"g":8,"x":0.38,"y":0.6},{"g":8,"x":0.42,"y":0.66},{"g":8,"x":0.46,"y":0.72},{"g":8,"x":0.5,"y":0.75},{"g":8,"x":0.56,"y":0.7},{"g":8,"x":0.62,"y":0.66},{"g":8,"x":0.7,"y":0.6},{"g":8,"x":0.78,"y":0.58},{"g":8,"x":0.86,"y":0.5},{"g":8,"x":0.94,"y":0.44},{"g":8,"x":1,"y":0.42},
{"g":9,"x":0.01,"y":0.3},{"g":9,"x":0.03,"y":0.38},{"g":9,"x":0.05,"y":0.45},{"g":9,"x":0.08,"y":0.5},{"g":9,"x":0.12,"y":0.48},{"g":9,"x":0.15,"y":0.4},{"g":9,"x":0.12,"y":0.33},{"g":9,"x":0.09,"y":0.28},{"g":9,"x":0.07,"y":0.22},{"g":9,"x":0.1,"y":0.15},{"g":9,"x":0.14,"y":0.1},{"g":9,"x":0.2,"y":0.12},{"g":9,"x":0.26,"y":0.18},{"g":9,"x":0.3,"y":0.28},{"g":9,"x":0.34,"y":0.35},{"g":9,"x":0.4,"y":0.4}
]
},
"concat": [
{
 "width": 1004, "height": 180,
 "layer": [
  {"layer": [
   {"data": {"name": "raw"}, "mark": {"type": "line", "color": "#ffc896", "strokeWidth": 1},
    "encoding": {
     "x": {"field": "t", "type": "quantitative", "scale": {"domain": [0, 165.8], "nice": false, "zero": false},
       "axis": {"orient": "bottom", "values": [0,3,6,9,12,15,18,21,24,27,30,33,36,39,42,45,48,51,54,57,60,63,66,69,72,75,78,81,84,87,90,93,96,99,102,105,108,111,114,117,120,123,126,129,132,135,138,141,144,147,150,153,156,159,162,165], "tickCount": 200, "labels": false, "tickSize": -6, "tickColor": "#555", "domainColor": "#999", "title": null}},
     "y": {"field": "H", "type": "quantitative", "scale": {"domain": [0, 1.53], "nice": false},
       "axis": {"orient": "left", "values": [0, 0.5, 1, 1.5], "tickCount": 50, "format": "~g", "tickSize": -6, "labelPadding": 11, "tickColor": "#ff8000", "domainColor": "#ff8000", "labelColor": "#ff8000", "labelFontWeight": "bold", "labelFontSize": 11, "title": null}}}},
   {"data": {"name": "sm"}, "mark": {"type": "line", "color": "#ff8000", "strokeWidth": 3.5},
    "encoding": {"x": {"field": "t", "type": "quantitative"}, "y": {"field": "h", "type": "quantitative"}}},
   {"data": {"values": [{"t": 1.8, "h": 1.378, "label": "(a) PEA vs |bottom DO horizontal advection|"}, {"t": 5.62, "h": 1.216, "label": "= -0.73"}]},
    "mark": {"type": "text", "align": "left", "baseline": "middle", "fontSize": 13.5, "fontWeight": "bold", "color": "#1a1a1a"},
    "encoding": {"x": {"field": "t", "type": "quantitative"}, "y": {"field": "h", "type": "quantitative"}, "text": {"field": "label"}}},
   {"data": {"values": [{"t": 4.54, "h": 1.216, "label": "r"}]},
    "mark": {"type": "text", "align": "left", "baseline": "middle", "fontSize": 13.5, "fontWeight": "bold", "fontStyle": "italic", "color": "#1a1a1a"},
    "encoding": {"x": {"field": "t", "type": "quantitative"}, "y": {"field": "h", "type": "quantitative"}, "text": {"field": "label"}}},
   {"data": {"values": [{"t": 0.33, "h": 1.577, "label": "×10⁻³"}]},
    "mark": {"type": "text", "align": "left", "baseline": "middle", "fontSize": 11, "color": "#ff8000"},
    "encoding": {"x": {"field": "t", "type": "quantitative"}, "y": {"field": "h", "type": "quantitative"}, "text": {"field": "label"}}}
  ]},
  {"layer": [
   {"data": {"name": "raw"}, "mark": {"type": "line", "color": "#6e6e6e", "strokeWidth": 1},
    "encoding": {
     "x": {"field": "t", "type": "quantitative",
       "axis": {"orient": "top", "values": [0,3,6,9,12,15,18,21,24,27,30,33,36,39,42,45,48,51,54,57,60,63,66,69,72,75,78,81,84,87,90,93,96,99,102,105,108,111,114,117,120,123,126,129,132,135,138,141,144,147,150,153,156,159,162,165], "tickCount": 200, "labels": false, "tickSize": -6, "tickColor": "#555", "domainColor": "#999", "title": null}},
     "y": {"field": "P", "type": "quantitative", "scale": {"domain": [0, 200], "nice": false},
       "axis": {"orient": "right", "values": [0, 50, 100, 150, 200], "tickCount": 50, "tickSize": -6, "labelPadding": 11, "tickColor": "#333", "domainColor": "#999", "labelColor": "#1a1a1a", "labelFontWeight": "bold", "labelFontSize": 11, "title": null}}}},
   {"data": {"name": "sm"}, "mark": {"type": "line", "color": "#000000", "strokeWidth": 3},
    "encoding": {"x": {"field": "t", "type": "quantitative"}, "y": {"field": "p", "type": "quantitative"}}}
  ]}
 ],
 "resolve": {"scale": {"y": "independent"}, "axis": {"x": "independent", "y": "independent"}}
},
{
 "width": 179, "height": 180,
 "layer": [
  {"data": {"name": "sb"}, "mark": {"type": "line", "color": "#c8c8c8", "strokeWidth": 1},
   "encoding": {
    "x": {"field": "x", "type": "quantitative", "scale": {"domain": [0, 1], "nice": false}, "axis": {"orient": "bottom", "values": [0, 0.2, 0.4, 0.6, 0.8, 1], "tickCount": 50, "format": ".1~f", "tickSize": -4, "labelPadding": 8, "labelColor": "#4d4d4d", "labelFontSize": 11, "tickColor": "#555", "domainColor": "#aaa", "title": null}},
    "y": {"field": "y", "type": "quantitative", "scale": {"domain": [0, 1], "nice": false}, "axis": {"orient": "left", "values": [0, 0.2, 0.4, 0.6, 0.8, 1], "tickCount": 50, "format": ".1~f", "tickSize": -4, "labelPadding": 8, "labelColor": "#4d4d4d", "labelFontSize": 11, "tickColor": "#555", "domainColor": "#aaa", "title": null}},
    "detail": {"field": "g"},
    "order": {"value": null}}},
  {"data": {"values": [{"x": 0, "y": 0.605}, {"x": 1, "y": 0.015}]}, "mark": {"type": "line", "color": "#000000", "strokeWidth": 2.5},
   "encoding": {
    "x": {"field": "x", "type": "quantitative", "axis": {"orient": "top", "values": [0, 0.2, 0.4, 0.6, 0.8, 1], "tickCount": 50, "labels": false, "tickSize": -4, "tickColor": "#555", "domainColor": "#aaa", "title": null}},
    "y": {"field": "y", "type": "quantitative", "axis": {"orient": "right", "values": [0, 0.2, 0.4, 0.6, 0.8, 1], "tickCount": 50, "labels": false, "tickSize": -4, "tickColor": "#555", "domainColor": "#aaa", "title": null}}}},
  {"data": {"values": [{"x": 0.257, "y": 0.9, "label": "y=-0.6x+0.6 (b)"}]}, "mark": {"type": "text", "align": "left", "baseline": "middle", "fontSize": 13, "fontWeight": "bold", "color": "#1a1a1a"},
   "encoding": {"x": {"field": "x", "type": "quantitative", "axis": null}, "y": {"field": "y", "type": "quantitative", "axis": null}, "text": {"field": "label"}}}
 ],
 "resolve": {"axis": {"x": "independent", "y": "independent"}}
},
{
 "width": 1004, "height": 180,
 "layer": [
  {"layer": [
   {"data": {"name": "raw"}, "mark": {"type": "line", "color": "#ffc896", "strokeWidth": 1},
    "encoding": {
     "x": {"field": "t", "type": "quantitative", "scale": {"domain": [0, 165.8], "nice": false, "zero": false},
       "axis": {"orient": "bottom", "values": [0,3,6,9,12,15,18,21,24,27,30,33,36,39,42,45,48,51,54,57,60,63,66,69,72,75,78,81,84,87,90,93,96,99,102,105,108,111,114,117,120,123,126,129,132,135,138,141,144,147,150,153,156,159,162,165], "tickCount": 200, "labels": false, "tickSize": -6, "tickColor": "#555", "domainColor": "#999", "title": null}},
     "y": {"field": "H", "type": "quantitative", "scale": {"domain": [0, 1.51], "nice": false},
       "axis": {"orient": "left", "values": [0, 0.5, 1, 1.5], "tickCount": 50, "format": "~g", "tickSize": -6, "labelPadding": 11, "tickColor": "#ff8000", "domainColor": "#ff8000", "labelColor": "#ff8000", "labelFontWeight": "bold", "labelFontSize": 11, "title": "Bottom DO transport (mmolO₂ m⁻³ s⁻¹)", "titleColor": "#ff8000", "titleFontSize": 13.5, "titleFontWeight": "bold", "titlePadding": 10}}}},
   {"data": {"name": "sm"}, "mark": {"type": "line", "color": "#ff8000", "strokeWidth": 3.5},
    "encoding": {"x": {"field": "t", "type": "quantitative"}, "y": {"field": "h", "type": "quantitative"}}},
   {"data": {"values": [{"t": 1.8, "h": 1.345, "label": "(c) PEA vs |bottom DO vertical advection|"}, {"t": 5.62, "h": 1.2, "label": "= -0.76"}]},
    "mark": {"type": "text", "align": "left", "baseline": "middle", "fontSize": 13.5, "fontWeight": "bold", "color": "#1a1a1a"},
    "encoding": {"x": {"field": "t", "type": "quantitative"}, "y": {"field": "h", "type": "quantitative"}, "text": {"field": "label"}}},
   {"data": {"values": [{"t": 4.54, "h": 1.2, "label": "r"}]},
    "mark": {"type": "text", "align": "left", "baseline": "middle", "fontSize": 13.5, "fontWeight": "bold", "fontStyle": "italic", "color": "#1a1a1a"},
    "encoding": {"x": {"field": "t", "type": "quantitative"}, "y": {"field": "h", "type": "quantitative"}, "text": {"field": "label"}}},
   {"data": {"values": [{"t": 0.33, "h": 1.558, "label": "×10⁻³"}]},
    "mark": {"type": "text", "align": "left", "baseline": "middle", "fontSize": 11, "color": "#ff8000"},
    "encoding": {"x": {"field": "t", "type": "quantitative"}, "y": {"field": "h", "type": "quantitative"}, "text": {"field": "label"}}}
  ]},
  {"layer": [
   {"data": {"name": "raw"}, "mark": {"type": "line", "color": "#6e6e6e", "strokeWidth": 1},
    "encoding": {
     "x": {"field": "t", "type": "quantitative",
       "axis": {"orient": "top", "values": [0,3,6,9,12,15,18,21,24,27,30,33,36,39,42,45,48,51,54,57,60,63,66,69,72,75,78,81,84,87,90,93,96,99,102,105,108,111,114,117,120,123,126,129,132,135,138,141,144,147,150,153,156,159,162,165], "tickCount": 200, "labels": false, "tickSize": -6, "tickColor": "#555", "domainColor": "#999", "title": null}},
     "y": {"field": "P", "type": "quantitative", "scale": {"domain": [0, 200], "nice": false},
       "axis": {"orient": "right", "values": [0, 50, 100, 150, 200], "tickCount": 50, "tickSize": -6, "labelPadding": 11, "tickColor": "#333", "domainColor": "#999", "labelColor": "#1a1a1a", "labelFontWeight": "bold", "labelFontSize": 11, "title": "PEA (J m⁻³)", "titleColor": "#1a1a1a", "titleFontSize": 13.5, "titleFontWeight": "bold", "titleAngle": 270, "titleBaseline": "top", "titlePadding": 8}}}},
   {"data": {"name": "sm"}, "mark": {"type": "line", "color": "#000000", "strokeWidth": 3},
    "encoding": {"x": {"field": "t", "type": "quantitative"}, "y": {"field": "p", "type": "quantitative"}}}
  ]}
 ],
 "resolve": {"scale": {"y": "independent"}, "axis": {"x": "independent", "y": "independent"}}
},
{
 "width": 179, "height": 180,
 "layer": [
  {"data": {"name": "sb"}, "mark": {"type": "line", "color": "#c8c8c8", "strokeWidth": 1},
   "encoding": {
    "x": {"field": "x", "type": "quantitative", "scale": {"domain": [0, 1], "nice": false}, "axis": {"orient": "bottom", "values": [0, 0.2, 0.4, 0.6, 0.8, 1], "tickCount": 50, "format": ".1~f", "tickSize": -4, "labelPadding": 8, "labelColor": "#4d4d4d", "labelFontSize": 11, "tickColor": "#555", "domainColor": "#aaa", "title": null}},
    "y": {"field": "y", "type": "quantitative", "scale": {"domain": [0, 1], "nice": false}, "axis": {"orient": "left", "values": [0, 0.2, 0.4, 0.6, 0.8, 1], "tickCount": 50, "format": ".1~f", "tickSize": -4, "labelPadding": 8, "labelColor": "#4d4d4d", "labelFontSize": 11, "tickColor": "#555", "domainColor": "#aaa", "title": "Normalized bottom DO transport", "titleColor": "#262626", "titleFontSize": 13.5, "titleFontWeight": "bold", "titlePadding": 3}},
    "detail": {"field": "g"},
    "order": {"value": null}}},
  {"data": {"values": [{"x": 0, "y": 0.625}, {"x": 1, "y": 0.0}]}, "mark": {"type": "line", "color": "#000000", "strokeWidth": 2.5},
   "encoding": {
    "x": {"field": "x", "type": "quantitative", "axis": {"orient": "top", "values": [0, 0.2, 0.4, 0.6, 0.8, 1], "tickCount": 50, "labels": false, "tickSize": -4, "tickColor": "#555", "domainColor": "#aaa", "title": null}},
    "y": {"field": "y", "type": "quantitative", "axis": {"orient": "right", "values": [0, 0.2, 0.4, 0.6, 0.8, 1], "tickCount": 50, "labels": false, "tickSize": -4, "tickColor": "#555", "domainColor": "#aaa", "title": null}}}},
  {"data": {"values": [{"x": 0.257, "y": 0.893, "label": "y=-0.6x+0.6 (d)"}]}, "mark": {"type": "text", "align": "left", "baseline": "middle", "fontSize": 13, "fontWeight": "bold", "color": "#1a1a1a"},
   "encoding": {"x": {"field": "x", "type": "quantitative", "axis": null}, "y": {"field": "y", "type": "quantitative", "axis": null}, "text": {"field": "label"}}}
 ],
 "resolve": {"axis": {"x": "independent", "y": "independent"}}
},
{
 "width": 1004, "height": 180,
 "layer": [
  {"layer": [
   {"data": {"name": "raw"}, "mark": {"type": "line", "color": "#ffc896", "strokeWidth": 1},
    "encoding": {
     "x": {"field": "t", "type": "quantitative", "scale": {"domain": [0, 165.8], "nice": false, "zero": false},
       "axis": {"orient": "bottom", "values": [0,3,6,9,12,15,18,21,24,27,30,33,36,39,42,45,48,51,54,57,60,63,66,69,72,75,78,81,84,87,90,93,96,99,102,105,108,111,114,117,120,123,126,129,132,135,138,141,144,147,150,153,156,159,162,165], "tickCount": 200, "labelExpr": "'' + (datum.value % 12 + 1)", "labelOverlap": false, "labelSeparation": 0, "labelBound": false, "tickSize": -6, "labelPadding": 10, "labelColor": "#262626", "labelFontWeight": "bold", "labelFontSize": 11, "tickColor": "#555", "domainColor": "#999", "title": "Days (2007–2020)", "titleColor": "#262626", "titleFontSize": 13.5, "titleFontWeight": "bold", "titlePadding": 4}},
     "y": {"field": "V", "type": "quantitative", "scale": {"domain": [0, 2.5], "nice": false},
       "axis": {"orient": "left", "values": [0, 0.5, 1, 1.5, 2, 2.5], "tickCount": 50, "format": "~g", "tickSize": -6, "labelPadding": 11, "tickColor": "#ff8000", "domainColor": "#ff8000", "labelColor": "#ff8000", "labelFontWeight": "bold", "labelFontSize": 11, "title": null}}}},
   {"data": {"name": "sm"}, "mark": {"type": "line", "color": "#ff8000", "strokeWidth": 3.5},
    "encoding": {"x": {"field": "t", "type": "quantitative"}, "y": {"field": "v", "type": "quantitative"}}},
   {"data": {"values": [{"t": 1.8, "v": 2.26, "label": "(e) PEA vs bottom DO vertical diffusion"}, {"t": 5.62, "v": 2.0, "label": "= 0.46"}]},
    "mark": {"type": "text", "align": "left", "baseline": "middle", "fontSize": 13.5, "fontWeight": "bold", "color": "#1a1a1a"},
    "encoding": {"x": {"field": "t", "type": "quantitative"}, "y": {"field": "v", "type": "quantitative"}, "text": {"field": "label"}}},
   {"data": {"values": [{"t": 4.54, "v": 2.0, "label": "r"}]},
    "mark": {"type": "text", "align": "left", "baseline": "middle", "fontSize": 13.5, "fontWeight": "bold", "fontStyle": "italic", "color": "#1a1a1a"},
    "encoding": {"x": {"field": "t", "type": "quantitative"}, "y": {"field": "v", "type": "quantitative"}, "text": {"field": "label"}}},
   {"data": {"values": [{"t": 0.33, "v": 2.593, "label": "×10⁻³"}]},
    "mark": {"type": "text", "align": "left", "baseline": "middle", "fontSize": 11, "color": "#ff8000"},
    "encoding": {"x": {"field": "t", "type": "quantitative"}, "y": {"field": "v", "type": "quantitative"}, "text": {"field": "label"}}}
  ]},
  {"layer": [
   {"data": {"name": "raw"}, "mark": {"type": "line", "color": "#6e6e6e", "strokeWidth": 1},
    "encoding": {
     "x": {"field": "t", "type": "quantitative",
       "axis": {"orient": "top", "values": [0,3,6,9,12,15,18,21,24,27,30,33,36,39,42,45,48,51,54,57,60,63,66,69,72,75,78,81,84,87,90,93,96,99,102,105,108,111,114,117,120,123,126,129,132,135,138,141,144,147,150,153,156,159,162,165], "tickCount": 200, "labels": false, "tickSize": -6, "tickColor": "#555", "domainColor": "#999", "title": null}},
     "y": {"field": "P", "type": "quantitative", "scale": {"domain": [0, 200], "nice": false},
       "axis": {"orient": "right", "values": [0, 50, 100, 150, 200], "tickCount": 50, "tickSize": -6, "labelPadding": 11, "tickColor": "#333", "domainColor": "#999", "labelColor": "#1a1a1a", "labelFontWeight": "bold", "labelFontSize": 11, "title": null}}}},
   {"data": {"name": "sm"}, "mark": {"type": "line", "color": "#000000", "strokeWidth": 3},
    "encoding": {"x": {"field": "t", "type": "quantitative"}, "y": {"field": "p", "type": "quantitative"}}}
  ]}
 ],
 "resolve": {"scale": {"y": "independent"}, "axis": {"x": "independent", "y": "independent"}}
},
{
 "width": 179, "height": 180,
 "layer": [
  {"data": {"name": "sf"}, "mark": {"type": "line", "color": "#c8c8c8", "strokeWidth": 1},
   "encoding": {
    "x": {"field": "x", "type": "quantitative", "scale": {"domain": [0, 1], "nice": false}, "axis": {"orient": "bottom", "values": [0, 0.2, 0.4, 0.6, 0.8, 1], "tickCount": 50, "format": ".1~f", "tickSize": -4, "labelPadding": 8, "labelColor": "#4d4d4d", "labelFontSize": 11, "tickColor": "#555", "domainColor": "#aaa", "title": "Normalized PEA", "titleColor": "#262626", "titleFontSize": 13.5, "titleFontWeight": "bold", "titlePadding": 4}},
    "y": {"field": "y", "type": "quantitative", "scale": {"domain": [0, 1], "nice": false}, "axis": {"orient": "left", "values": [0, 0.2, 0.4, 0.6, 0.8, 1], "tickCount": 50, "format": ".1~f", "tickSize": -4, "labelPadding": 8, "labelColor": "#4d4d4d", "labelFontSize": 11, "tickColor": "#555", "domainColor": "#aaa", "title": null}},
    "detail": {"field": "g"},
    "order": {"value": null}}},
  {"data": {"values": [{"x": 0, "y": 0.2}, {"x": 0.1, "y": 0.326}, {"x": 0.2, "y": 0.426}, {"x": 0.3, "y": 0.499}, {"x": 0.4, "y": 0.545}, {"x": 0.5, "y": 0.565}, {"x": 0.6, "y": 0.558}, {"x": 0.7, "y": 0.525}, {"x": 0.8, "y": 0.465}, {"x": 0.9, "y": 0.378}, {"x": 1, "y": 0.265}]}, "mark": {"type": "line", "color": "#000000", "strokeWidth": 2.5},
   "encoding": {
    "x": {"field": "x", "type": "quantitative", "axis": {"orient": "top", "values": [0, 0.2, 0.4, 0.6, 0.8, 1], "tickCount": 50, "labels": false, "tickSize": -4, "tickColor": "#555", "domainColor": "#aaa", "title": null}},
    "y": {"field": "y", "type": "quantitative", "axis": {"orient": "right", "values": [0, 0.2, 0.4, 0.6, 0.8, 1], "tickCount": 50, "labels": false, "tickSize": -4, "tickColor": "#555", "domainColor": "#aaa", "title": null}}}},
  {"data": {"values": [{"x": 0.9, "y": 0.892, "label": "(f)"}, {"x": 0.94, "y": 0.046, "label": "y=-1.4x²+1.4x+0.2"}]}, "mark": {"type": "text", "align": "right", "baseline": "middle", "fontSize": 13, "fontWeight": "bold", "color": "#1a1a1a"},
   "encoding": {"x": {"field": "x", "type": "quantitative", "axis": null}, "y": {"field": "y", "type": "quantitative", "axis": null}, "text": {"field": "label"}}}
 ],
 "resolve": {"axis": {"x": "independent", "y": "independent"}}
}
],
"columns": 2,
"spacing": {"row": 36, "column": 102},
"bounds": "flush",
"align": "each"
}
